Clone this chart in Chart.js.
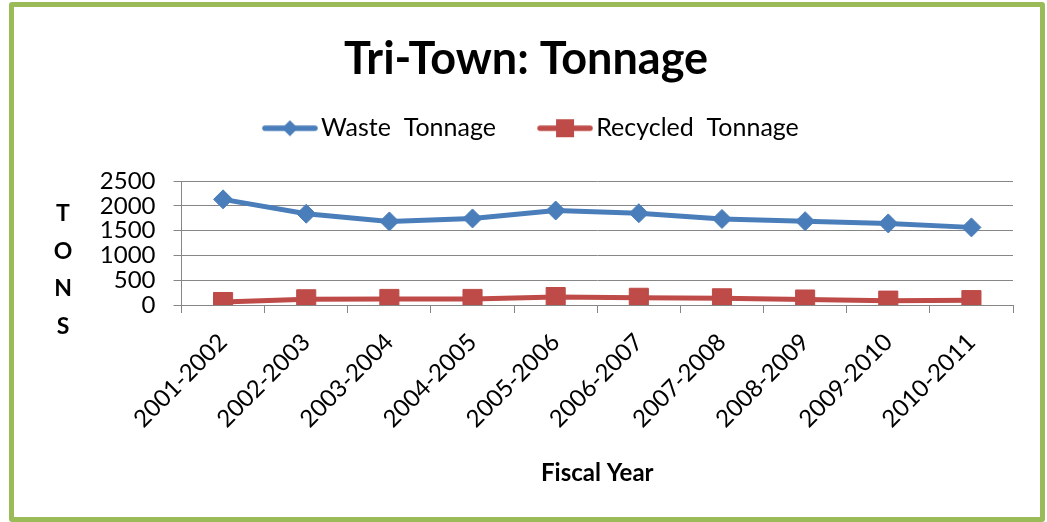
<!DOCTYPE html>
<html>
<head>
<meta charset="utf-8">
<script src="https://cdn.jsdelivr.net/npm/chart.js@4/dist/chart.umd.min.js"></script>
<style>
  html, body { margin: 0; padding: 0; background: #ffffff; }
  #frame { position: absolute; left: 9px; top: 2px; width: 1026px; height: 510px; border: 5px solid #9BBB59; border-radius: 3px; }
  #c { position: absolute; left: 0; top: 0; }
</style>
</head>
<body>
<div id="frame"></div>
<canvas id="c" width="1047" height="522"></canvas>
<script>
// ---- data ----
const categories = ['2001-2002', '2002-2003', '2003-2004', '2004-2005', '2005-2006',
                    '2006-2007', '2007-2008', '2008-2009', '2009-2010', '2010-2011'];
const wasteTonnage = [2130, 1840, 1685, 1745, 1905, 1850, 1735, 1690, 1645, 1565];
const recycledTonnage = [60, 115, 122, 122, 160, 145, 135, 110, 88, 98];
const seriesNames = ['Waste  Tonnage', 'Recycled  Tonnage'];
const chartTitle = 'Tri-Town: Tonnage';
const xAxisTitle = 'Fiscal Year';
const yAxisTitleLetters = ['T', 'O', 'N', 'S'];
const yMin = 0, yMax = 2500, yStep = 500;

// ---- styles ----
const BLUE = '#4A7EBB';
const RED = '#BE4B48';
const GRID = '#868686';
const FONT = 'Lato';

function legendImage(color, shape) {
  const cv = document.createElement('canvas');
  cv.width = 74; cv.height = 24;
  const g = cv.getContext('2d');
  g.strokeStyle = color; g.fillStyle = color;
  g.lineWidth = 5.5; g.lineCap = 'round';
  g.beginPath(); g.moveTo(21, 12); g.lineTo(71, 12); g.stroke();
  g.beginPath();
  if (shape === 'diamond') {
    g.moveTo(46, 4); g.lineTo(54, 12); g.lineTo(46, 20); g.lineTo(38, 12); g.closePath();
  } else {
    g.rect(37, 3, 18, 18);
  }
  g.fill();
  return cv;
}
const legendImages = [legendImage(BLUE, 'diamond'), legendImage(RED, 'square')];

const yLetterPlugin = {
  id: 'yLetters',
  afterDraw(chart) {
    const ctx = chart.ctx;
    ctx.save();
    ctx.font = 'bold 23px ' + FONT;
    ctx.fillStyle = '#000';
    ctx.textAlign = 'center';
    ctx.textBaseline = 'middle';
    yAxisTitleLetters.forEach((ch, i) => ctx.fillText(ch, 63, 214 + i * 37.5));
    ctx.restore();
  }
};

new Chart(document.getElementById('c'), {
  type: 'line',
  data: {
    labels: categories,
    datasets: [
      {
        label: seriesNames[0], data: wasteTonnage,
        borderColor: BLUE, backgroundColor: BLUE, borderWidth: 5,
        pointStyle: 'rectRot', pointRadius: 9.5, pointBorderWidth: 1,
        pointBackgroundColor: BLUE, pointBorderColor: BLUE, tension: 0
      },
      {
        label: seriesNames[1], data: recycledTonnage,
        borderColor: RED, backgroundColor: RED, borderWidth: 5,
        pointStyle: 'rect', pointRadius: 13.5, pointBorderWidth: 1,
        pointBackgroundColor: RED, pointBorderColor: RED, tension: 0
      }
    ]
  },
  options: {
    responsive: false,
    animation: false,
    devicePixelRatio: 1,
    layout: { padding: { left: 5, right: 0, top: 0, bottom: 0 } },
    plugins: {
      tooltip: { enabled: false },
      title: {
        display: true, text: chartTitle, color: '#000',
        font: { family: FONT, size: 45, weight: 'bold' },
        padding: { top: 32.5, bottom: -3.2 }
      },
      subtitle: {
        display: true, text: '', weight: 500,
        font: { size: 10 }, padding: { top: 18.3, bottom: 0 }
      },
      legend: {
        display: true, position: 'top',
        labels: {
          color: '#000',
          font: { family: FONT, size: 25 },
          usePointStyle: true,
          pointStyleWidth: 55.4,
          padding: 32.4,
          generateLabels(chart) {
            const items = Chart.defaults.plugins.legend.labels.generateLabels(chart);
            items.forEach((it, i) => { it.pointStyle = legendImages[i]; });
            return items;
          }
        }
      }
    },
    scales: {
      x: {
        type: 'category',
        offset: true,
        grid: { offset: true, drawOnChartArea: false, drawTicks: true, tickLength: 8, color: GRID },
        border: { display: true, color: GRID },
        ticks: {
          color: '#000', font: { family: FONT, size: 24 },
          minRotation: 45, maxRotation: 45, autoSkip: false, padding: 15
        },
        title: {
          display: true, text: xAxisTitle, color: '#000',
          font: { family: FONT, size: 24, weight: 'bold' },
          padding: { top: 4, bottom: 34 }
        },
        afterFit(scale) { scale.height = 217; }
      },
      y: {
        min: yMin, max: yMax,
        grid: { color: GRID, tickLength: 8, lineWidth: 1 },
        border: { display: true, color: GRID },
        ticks: {
          stepSize: yStep, autoSkip: false, color: '#000',
          font: { family: FONT, size: 24 }, padding: 18,
          callback: (v) => String(v)
        },
        afterFit(scale) { scale.width = 176.5; }
      },
      yRight: {
        type: 'linear', position: 'right', display: true,
        grid: { display: false, drawTicks: false },
        border: { display: false },
        ticks: { display: false },
        afterFit(scale) { scale.width = 34; }
      }
    }
  },
  plugins: [yLetterPlugin]
});
</script>
</body>
</html>
